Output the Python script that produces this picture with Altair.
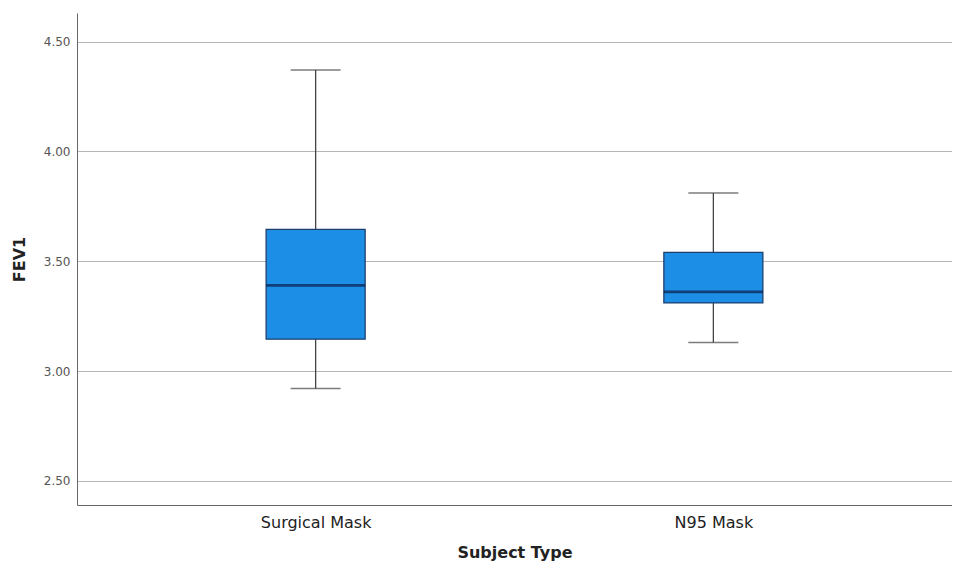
import altair as alt
import pandas as pd

# box statistics
groups = ["Surgical Mask", "N95 Mask"]
lower_whisker = [2.92, 3.13]
q1 = [3.145, 3.31]
median = [3.39, 3.36]
q3 = [3.645, 3.54]
upper_whisker = [4.37, 3.81]
y_ticks = [2.5, 3.0, 3.5, 4.0, 4.5]

df = pd.DataFrame({
    "group": groups,
    "lo": lower_whisker,
    "q1": q1,
    "med": median,
    "q3": q3,
    "hi": upper_whisker,
})

x_enc = alt.X(
    "group:N",
    sort=groups,
    scale=alt.Scale(type="point", padding=0.6),
    axis=alt.Axis(
        title="Subject Type", titleFontSize=16, titleFontWeight="bold",
        titleColor="#222", titlePadding=14, labelFontSize=16, labelColor="#222",
        labelPadding=9, ticks=False, domainColor="#666", labelAngle=0,
        grid=False,
    ),
)
y_scale = alt.Scale(domain=[2.39, 4.63], nice=False, zero=False)
y_axis = alt.Axis(
    title="FEV1", titleFontSize=16, titleFontWeight="bold", titleColor="#222",
    titlePadding=16, values=y_ticks, format=".2f", labelFontSize=12,
    labelColor="#555", labelPadding=7, ticks=False, domainColor="#666",
    gridColor="#b5b5b5",
)

base = alt.Chart(df)

whiskers = base.mark_rule(color="#444", strokeWidth=1.3).encode(
    x=x_enc,
    y=alt.Y("lo:Q", scale=y_scale, axis=y_axis),
    y2="hi:Q",
)

caps_lo = base.mark_tick(color="#444", size=50, thickness=1.5).encode(
    x=x_enc, y=alt.Y("lo:Q", scale=y_scale)
)
caps_hi = base.mark_tick(color="#444", size=50, thickness=1.5).encode(
    x=x_enc, y=alt.Y("hi:Q", scale=y_scale)
)

boxes = base.mark_bar(size=99, fill="#1c8ee6", stroke="#1d3f6e", strokeWidth=1.3).encode(
    x=x_enc,
    y=alt.Y("q1:Q", scale=y_scale),
    y2="q3:Q",
)

medians = base.mark_tick(color="#0a1c48", size=99, thickness=2.8).encode(
    x=x_enc, y=alt.Y("med:Q", scale=y_scale)
)

chart = alt.layer(whiskers, caps_lo, caps_hi, boxes, medians).properties(
    width=875,
    height=492,
    autosize=alt.AutoSizeParams(type="none"),
    padding={"left": 69, "top": 5, "right": 0, "bottom": 60},
).configure(
    font="DejaVu Sans"
).configure_view(
    stroke=None,
    strokeWidth=0,
)

chart.save("out.html", embed_options={"renderer": "svg", "actions": False})
